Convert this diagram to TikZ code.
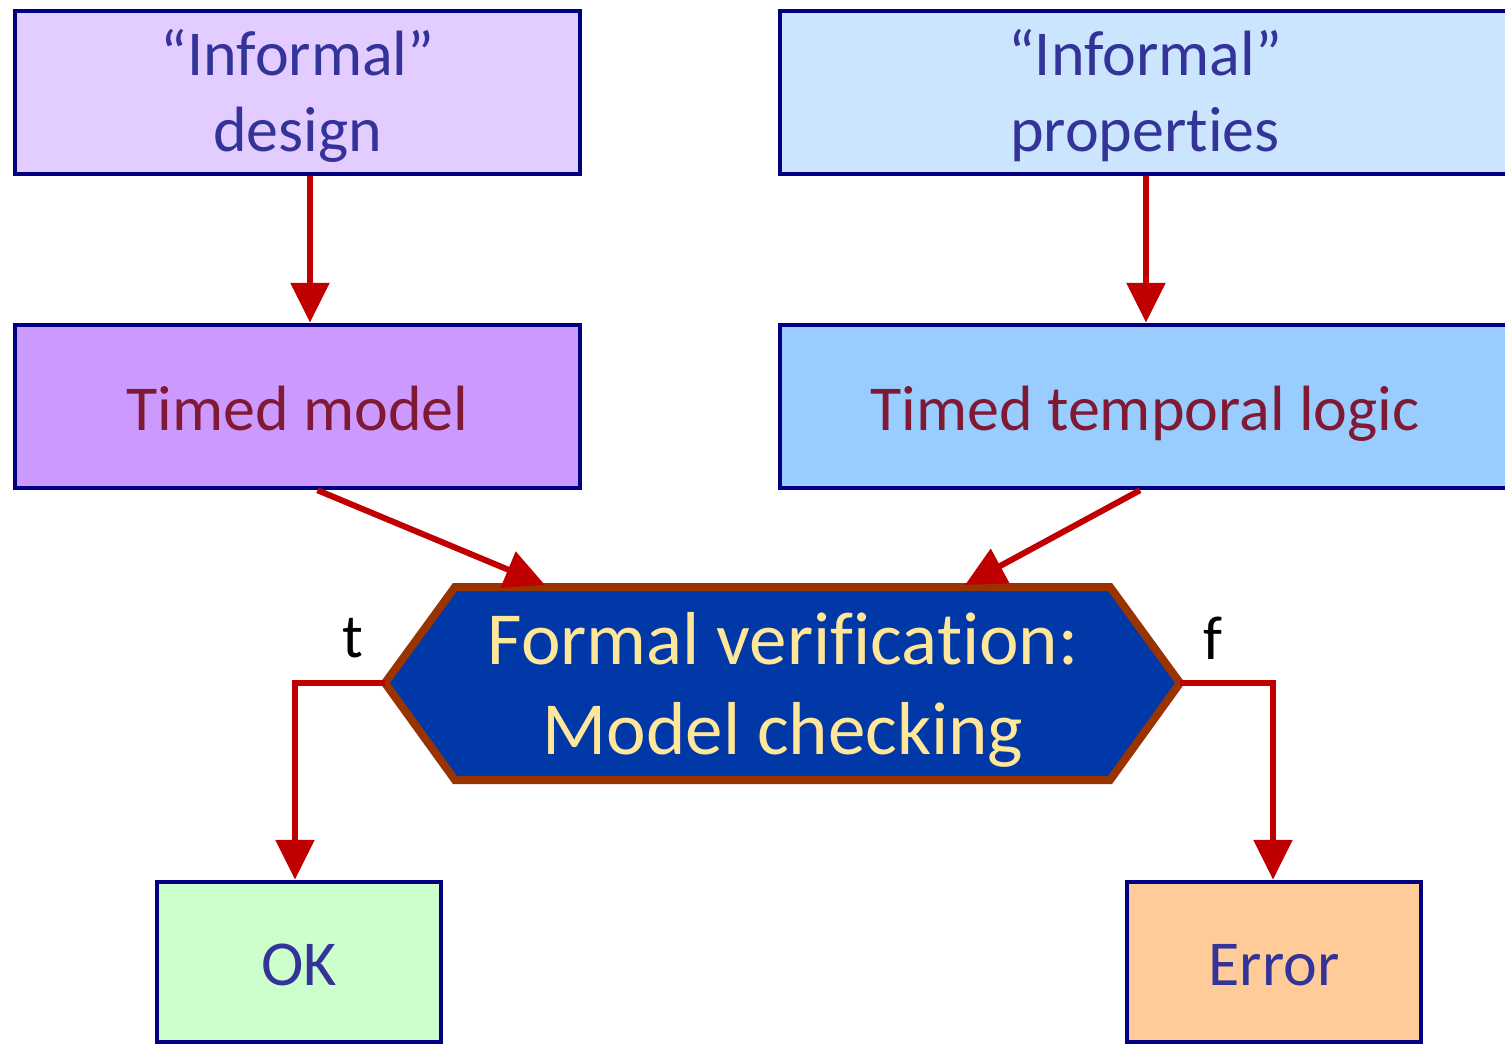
\documentclass[tikz,border=0pt]{standalone}
\usepackage{fontspec}
\setmainfont{Carlito}[Ligatures=NoCommon]
\usetikzlibrary{arrows.meta,calc}
\definecolor{navyline}{RGB}{0,0,128}
\definecolor{bluetext}{RGB}{51,51,153}
\definecolor{marontext}{RGB}{128,26,52}
\definecolor{flowred}{RGB}{192,0,0}
\definecolor{lilaclight}{RGB}{227,204,255}
\definecolor{lilac}{RGB}{204,153,255}
\definecolor{skylight}{RGB}{204,229,255}
\definecolor{sky}{RGB}{153,204,255}
\definecolor{mintbox}{RGB}{204,255,204}
\definecolor{peachbox}{RGB}{255,204,153}
\definecolor{hexfill}{RGB}{0,56,168}
\definecolor{hexrim}{RGB}{153,51,0}
\definecolor{hextext}{RGB}{255,230,153}
\tikzset{
  box/.style={draw=navyline, line width=4.5pt, inner sep=0pt, align=center,
    font=\fontsize{64}{77}\selectfont},
  % one-line boxes: baseline 23.5pt below the centre
  oneline/.style={text height=47pt, text depth=0pt},
  % two-line boxes: last baseline 59.5pt below the centre
  twoline/.style={text height=122pt, text depth=3pt},
  flow/.style={draw=flowred, line width=6pt,
    -{Triangle[length=40pt,width=38pt]}},
  branch/.style={font=\fontsize{62}{62}\selectfont, text=black, inner sep=0pt}
}
\begin{document}
\begin{tikzpicture}[x=1pt,y=-1pt]
\useasboundingbox (0,0) rectangle (1505,1046);
\clip (0,0) rectangle (1505,1046);

% design side
\node[box, twoline, fill=lilaclight, text=bluetext, minimum width=565pt, minimum height=163pt]
  (infd) at (297.5,92.5) {“Informal”\\design};
\node[box, oneline, fill=lilac, text=marontext, minimum width=565pt, minimum height=163pt]
  (tmod) at (297.5,406.5) {Timed model};

% property side
\node[box, twoline, fill=skylight, text=bluetext, minimum width=730pt, minimum height=163pt]
  (infp) at (1145,92.5) {“Informal”\\properties};
\node[box, oneline, fill=sky, text=marontext, minimum width=730pt, minimum height=163pt]
  (tlog) at (1145,406.5) {Timed temporal logic};

% verification hexagon
\coordinate (hexL) at (385,683);
\coordinate (hexR) at (1180,683);
\coordinate (hexTL) at (455,587);
\coordinate (hexTR) at (1110,587);
\coordinate (hexBL) at (455,780);
\coordinate (hexBR) at (1110,780);
\draw[draw=hexrim, fill=hexfill, line width=8pt, line join=miter]
  (hexL) -- (hexTL) -- (hexTR) -- (hexR) -- (hexBR) -- (hexBL) -- cycle;
\node[text=hextext, align=center, font=\fontsize{75}{90}\selectfont, inner sep=0pt]
  (hex) at (783,690) {Formal verification:\\Model checking};
\coordinate (hexinA) at (545,585);
\coordinate (hexinB) at (965,585);

% outcomes
\node[box, oneline, fill=mintbox, text=bluetext, minimum width=284pt, minimum height=160pt]
  (ok) at (299,962) {OK};
\node[box, oneline, fill=peachbox, text=bluetext, minimum width=294pt, minimum height=160pt]
  (err) at (1274,962) {Error};

% connectors
\draw[flow] (infd.south -| 310,0) -- (tmod.north -| 310,0);
\draw[flow] (infp.south -| 1146,0) -- (tlog.north -| 1146,0);
\draw[flow] ($(tmod.south)+(20,0)$) -- (hexinA);
\draw[flow] ($(tlog.south)+(-5,0)$) -- (hexinB);
\draw[flow] (hexL) -- (295,683) -- (ok.north -| 295,0);
\draw[flow] (hexR) -- (1273,683) -- (err.north -| 1273,0);

% branch labels
\node[branch] (tlab) at (353,638) {t};
\node[branch] (flab) at (1213,638) {f};
\end{tikzpicture}
\end{document}
